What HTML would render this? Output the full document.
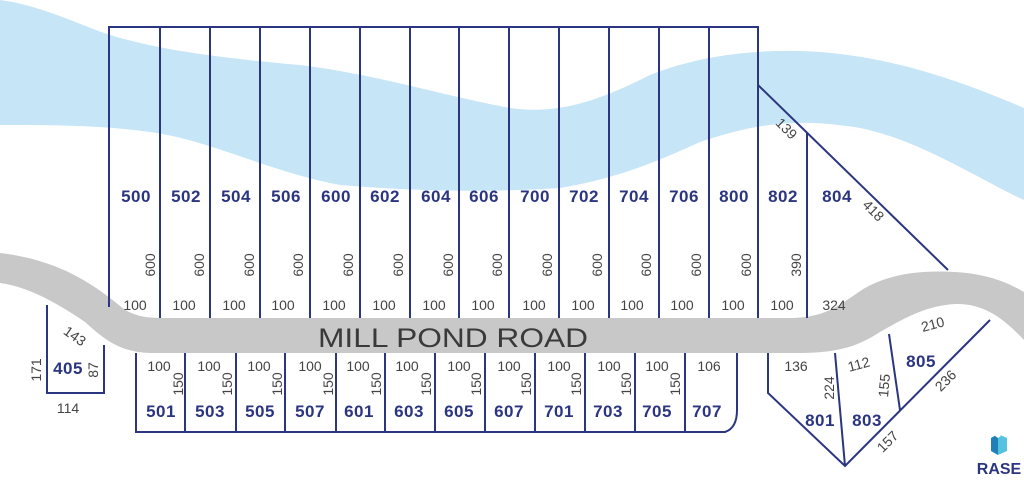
<!DOCTYPE html>
<html><head><meta charset="utf-8"><style>
html,body{margin:0;padding:0;background:#fff;width:1024px;height:481px;overflow:hidden}
svg{display:block}
.n{font-family:"Liberation Sans",sans-serif;font-weight:bold;font-size:17px;fill:#2b3580;text-anchor:middle;letter-spacing:0.5px}
.d{font-family:"Liberation Sans",sans-serif;font-size:14px;fill:#444;text-anchor:middle}
</style></head><body>
<svg width="1024" height="481" viewBox="0 0 1024 481" xmlns="http://www.w3.org/2000/svg">
<path d="M0,0 C40,5 80,25 110,35 C160,50 220,58 300,65 C380,75 440,95 510,108 C560,115 600,100 650,75 C700,55 760,48 820,52 C900,58 970,85 1024,108 L1024,200 C980,180 920,140 860,128 C800,118 760,122 700,142 C660,160 620,178 560,188 C500,192 420,192 340,185 C270,172 210,140 150,132 C100,125 50,125 0,125 Z" fill="#c6e5f6"/>
<path d="M0,253 C60,260 95,285 125,310 C140,318 150,318 170,318 L790,318 C830,318 845,300 865,288 C890,274 920,270 955,272 C990,274 1010,284 1024,292 L1024,340 C1005,320 985,303 955,304 C925,306 905,318 880,332 C860,345 840,353 800,353 L150,353 C120,352 105,340 85,322 C60,305 30,287 0,283 Z" fill="#c8c8c9"/>
<g stroke="#2b3580" stroke-width="2" fill="none">
<path d="M109,307 L109,27 L758,27 L758,318"/>
<path d="M160,27V318 M210,27V318 M260,27V318 M310,27V318 M360,27V318 M410,27V318 M459,27V318 M509,27V318 M559,27V318 M609,27V318 M659,27V318 M709,27V318"/>
<path d="M758,85 L948,270 M807,133 V318"/>
<path d="M136,353 V432 H725 Q737,428 737,410 V353"/>
<path d="M185,353V432 M236,353V432 M285,353V432 M336,353V432 M385,353V432 M435,353V432 M485,353V432 M535,353V432 M585,353V432 M635,353V432 M685,353V432"/>
<path d="M47,305 V393 H104 V345"/>
<path d="M768,353 V393 L845,466 L990,320 M835,353 L845,466 M889,334 L900,410"/>
</g>
<g class="n">
<text x="136" y="202">500</text><text x="186" y="202">502</text><text x="236" y="202">504</text><text x="286" y="202">506</text><text x="336" y="202">600</text><text x="385" y="202">602</text><text x="436" y="202">604</text><text x="484" y="202">606</text><text x="535" y="202">700</text><text x="584" y="202">702</text><text x="634" y="202">704</text><text x="684" y="202">706</text><text x="734" y="202">800</text><text x="783" y="202">802</text><text x="837" y="202">804</text>
<text x="161" y="417">501</text><text x="210" y="417">503</text><text x="260" y="417">505</text><text x="310" y="417">507</text><text x="359" y="417">601</text><text x="409" y="417">603</text><text x="459" y="417">605</text><text x="509" y="417">607</text><text x="559" y="417">701</text><text x="608" y="417">703</text><text x="657" y="417">705</text><text x="707" y="417">707</text>
<text x="68" y="374">405</text><text x="820" y="426">801</text><text x="867" y="426">803</text><text x="921" y="367">805</text>
</g>
<g class="d">
<text x="135" y="310">100</text><text x="184" y="310">100</text><text x="234" y="310">100</text><text x="283" y="310">100</text><text x="334" y="310">100</text><text x="384" y="310">100</text><text x="434" y="310">100</text><text x="483" y="310">100</text><text x="534" y="310">100</text><text x="583" y="310">100</text><text x="632" y="310">100</text><text x="682" y="310">100</text><text x="733" y="310">100</text><text x="782" y="310">100</text><text x="834" y="310">324</text>
<text x="159" y="371">100</text><text x="209" y="371">100</text><text x="259" y="371">100</text><text x="310" y="371">100</text><text x="358" y="371">100</text><text x="407" y="371">100</text><text x="459" y="371">100</text><text x="509" y="371">100</text><text x="559" y="371">100</text><text x="609" y="371">100</text><text x="657" y="371">100</text><text x="709" y="371">106</text><text x="796" y="371">136</text>
<text x="68" y="413">114</text>
</g>
<g class="d">
<text transform="translate(155,265) rotate(-90)">600</text><text transform="translate(204,265) rotate(-90)">600</text><text transform="translate(254,265) rotate(-90)">600</text><text transform="translate(303,265) rotate(-90)">600</text><text transform="translate(353,265) rotate(-90)">600</text><text transform="translate(403,265) rotate(-90)">600</text><text transform="translate(453,265) rotate(-90)">600</text><text transform="translate(502,265) rotate(-90)">600</text><text transform="translate(552,265) rotate(-90)">600</text><text transform="translate(602,265) rotate(-90)">600</text><text transform="translate(651,265) rotate(-90)">600</text><text transform="translate(701,265) rotate(-90)">600</text><text transform="translate(751,265) rotate(-90)">600</text><text transform="translate(801,265) rotate(-90)">390</text>
<text transform="translate(183,384) rotate(-90)">150</text><text transform="translate(232,384) rotate(-90)">150</text><text transform="translate(282,384) rotate(-90)">150</text><text transform="translate(333,384) rotate(-90)">150</text><text transform="translate(381,384) rotate(-90)">150</text><text transform="translate(431,384) rotate(-90)">150</text><text transform="translate(481,384) rotate(-90)">150</text><text transform="translate(531,384) rotate(-90)">150</text><text transform="translate(581,384) rotate(-90)">150</text><text transform="translate(631,384) rotate(-90)">150</text><text transform="translate(680,384) rotate(-90)">150</text>
<text transform="translate(41,370) rotate(-90)">171</text><text transform="translate(98,370) rotate(-90)">87</text>
<text transform="translate(72,340) rotate(35)">143</text>
<text transform="translate(783,132) rotate(45)">139</text>
<text transform="translate(870,214) rotate(45)">418</text>
<text transform="translate(834,388) rotate(-90)">224</text>
<text transform="translate(860,369) rotate(-15)">112</text>
<text transform="translate(889,386) rotate(-85)">155</text>
<text transform="translate(934,329) rotate(-15)">210</text>
<text transform="translate(949,384) rotate(-45)">236</text>
<text transform="translate(891,445) rotate(-45)">157</text>
</g>
<text x="318" y="347" font-family="Liberation Sans,sans-serif" font-size="27" fill="#3a3a3a" textLength="270" lengthAdjust="spacingAndGlyphs">MILL POND ROAD</text>
<path d="M991,438 L998,434 L998,455 L991,451 Z" fill="#1f7fb8"/>
<path d="M998,434 L1007,438 L1007,451 L998,455 Z" fill="#55c3e0"/>
<path d="M998,432 L1001,436 L998,438 L995,436 Z" fill="#fff"/>
<text x="999" y="474" font-family="Liberation Sans,sans-serif" font-weight="bold" font-size="16" fill="#2b3580" text-anchor="middle">RASE</text>
</svg>
</body></html>
